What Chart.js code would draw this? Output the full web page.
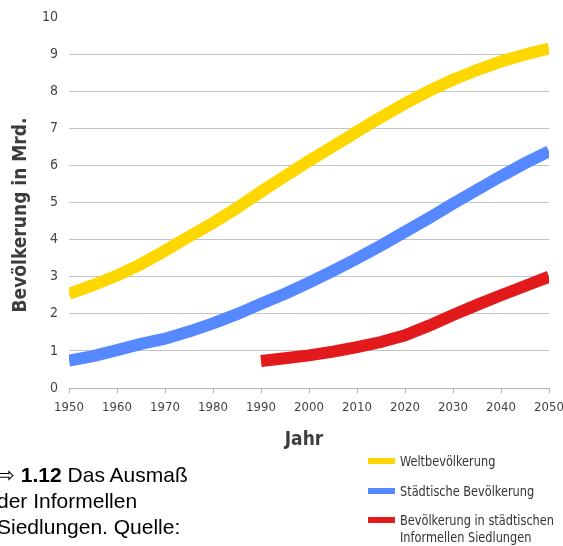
<!DOCTYPE html>
<html>
<head>
<meta charset="utf-8">
<script src="https://cdn.jsdelivr.net/npm/chart.js@4/dist/chart.umd.min.js"></script>
<style>
  html, body { margin: 0; padding: 0; background: #fff; }
  #wrap { position: relative; width: 563px; height: 546px; overflow: hidden; }
  #chart { position: absolute; left: 0; top: 0; }
  #caption {
    position: absolute; left: -3px; top: 462px;
    font: 21px "Liberation Sans", Arial, sans-serif; line-height: 26px;
    color: #000; white-space: nowrap;
  }
  #legend {
    position: absolute; left: 0; top: 0; width: 563px; height: 546px;
    font: 14px "DejaVu Sans Condensed", "DejaVu Sans", sans-serif;
    color: #333; line-height: 17px;
  }
  .lg-item { position: absolute; left: 368px; white-space: nowrap; }
  .lg-swatch { position: absolute; left: 0; top: 5.5px; width: 27px; height: 6px; }
  .lg-text { position: absolute; left: 32px; top: 0; transform: scaleX(0.9); transform-origin: 0 0; }
</style>
</head>
<body>
<div id="wrap">
  <canvas id="chart" width="563" height="546"></canvas>
  <div id="legend"></div>
  <div id="caption">⇨ <b>1.12</b> Das Ausmaß<br>der Informellen<br>Siedlungen. Quelle:</div>
</div>
<script>
// Years sampled every five years
const YEARS = [1950, 1955, 1960, 1965, 1970, 1975, 1980, 1985, 1990, 1995, 2000,
               2005, 2010, 2015, 2020, 2025, 2030, 2035, 2040, 2045, 2050];
// World population (billions)
const WORLD = [2.54, 2.77, 3.03, 3.34, 3.70, 4.08, 4.45, 4.85, 5.29, 5.71, 6.12,
               6.51, 6.91, 7.30, 7.67, 8.01, 8.31, 8.57, 8.80, 8.99, 9.15];
// Urban population (billions)
const URBAN = [0.74, 0.86, 1.02, 1.19, 1.33, 1.52, 1.74, 1.99, 2.27, 2.54, 2.84,
               3.16, 3.49, 3.84, 4.21, 4.58, 4.97, 5.34, 5.71, 6.06, 6.38];
// Population in urban informal settlements (billions), from 1990 on
const SLUM_YEARS = [1990, 1995, 2000, 2005, 2010, 2015, 2020, 2025, 2030, 2035, 2040, 2045, 2050];
const SLUM = [0.73, 0.80, 0.88, 0.98, 1.10, 1.24, 1.42, 1.68, 1.97, 2.24, 2.50, 2.75, 3.00];

const SERIES_NAMES = ['Weltbevölkerung', 'Städtische Bevölkerung',
                      'Bevölkerung in städtischen\nInformellen Siedlungen'];
const SERIES_COLORS = ['#FFD700', '#5689FF', '#E31A1C'];

const X_TITLE = 'Jahr';
const Y_TITLE = 'Bevölkerung in Mrd.';
const X_MIN = 1950, X_MAX = 2050, X_STEP = 10;
const Y_MIN = 0, Y_MAX = 10, Y_STEP = 1;

const NARROW = '"DejaVu Sans Condensed", "DejaVu Sans", sans-serif';

const toPoints = (xs, ys) => xs.map((x, i) => ({ x: x, y: ys[i] }));

const lineStyle = (color) => ({
  borderColor: color,
  backgroundColor: color,
  borderWidth: 12,
  borderCapStyle: 'butt',
  borderJoinStyle: 'miter',
  pointRadius: 0,
  pointHoverRadius: 0,
  tension: 0,
  fill: false
});

// Rotated y-axis title and the x-axis title, slightly condensed
const axisTitlePlugin = {
  id: 'axisTitles',
  afterDraw(chart) {
    const ctx = chart.ctx;
    ctx.save();
    ctx.font = 'bold 20px ' + NARROW;
    ctx.fillStyle = '#3c3c3c';
    ctx.textAlign = 'center';
    ctx.textBaseline = 'middle';
    ctx.save();
    ctx.translate(21, 215);
    ctx.rotate(-Math.PI / 2);
    ctx.scale(0.95, 1);
    ctx.fillText(Y_TITLE, 0, 0);
    ctx.restore();
    ctx.save();
    ctx.translate(304, 440);
    ctx.scale(0.95, 1);
    ctx.fillText(X_TITLE, 0, 0);
    ctx.restore();
    ctx.restore();
  }
};

const chart = new Chart(document.getElementById('chart'), {
  type: 'line',
  data: {
    datasets: [
      Object.assign({ label: SERIES_NAMES[0], data: toPoints(YEARS, WORLD) }, lineStyle(SERIES_COLORS[0])),
      Object.assign({ label: SERIES_NAMES[1], data: toPoints(YEARS, URBAN) }, lineStyle(SERIES_COLORS[1])),
      Object.assign({ label: SERIES_NAMES[2], data: toPoints(SLUM_YEARS, SLUM) }, lineStyle(SERIES_COLORS[2]))
    ]
  },
  options: {
    responsive: false,
    animation: false,
    layout: { padding: { left: 0, right: 14, top: 17, bottom: 94 } },
    plugins: {
      legend: { display: false },
      tooltip: { enabled: false }
    },
    scales: {
      x: {
        type: 'linear',
        min: X_MIN, max: X_MAX,
        afterFit(scale) {
          scale.height = 64;
          scale.paddingLeft = 0;
          scale.paddingRight = 0;
        },
        ticks: {
          stepSize: X_STEP,
          padding: 7,
          color: '#454545',
          font: { family: NARROW, size: 13 },
          callback: (v) => String(v)
        },
        grid: {
          drawOnChartArea: false,
          drawTicks: true,
          tickLength: 5,
          color: '#b4b4b4'
        },
        border: { display: true, color: '#b4b4b4', width: 1 }
      },
      y: {
        min: Y_MIN, max: Y_MAX,
        afterFit(scale) {
          scale.width = 69;
          scale.paddingTop = 0;
          scale.paddingBottom = 0;
        },
        ticks: {
          stepSize: Y_STEP,
          padding: 11,
          color: '#454545',
          font: { family: NARROW, size: 14 }
        },
        grid: {
          drawTicks: false,
          color: (c) => (c.tick && (c.tick.value === Y_MAX || c.tick.value === Y_MIN)) ? 'rgba(0,0,0,0)' : '#c4c4c4',
          lineWidth: 1
        },
        border: { display: false }
      }
    }
  },
  plugins: [axisTitlePlugin]
});

// Legend built from the chart's datasets
const legendRows = [452.5, 482.5, 511.5];
const legend = document.getElementById('legend');
chart.data.datasets.forEach((ds, i) => {
  const item = document.createElement('div');
  item.className = 'lg-item';
  item.style.top = legendRows[i] + 'px';
  const sw = document.createElement('div');
  sw.className = 'lg-swatch';
  sw.style.background = ds.borderColor;
  const tx = document.createElement('div');
  tx.className = 'lg-text';
  ds.label.split('\n').forEach((line, k) => {
    if (k) tx.appendChild(document.createElement('br'));
    tx.appendChild(document.createTextNode(line));
  });
  item.appendChild(sw);
  item.appendChild(tx);
  legend.appendChild(item);
});
</script>
</body>
</html>
